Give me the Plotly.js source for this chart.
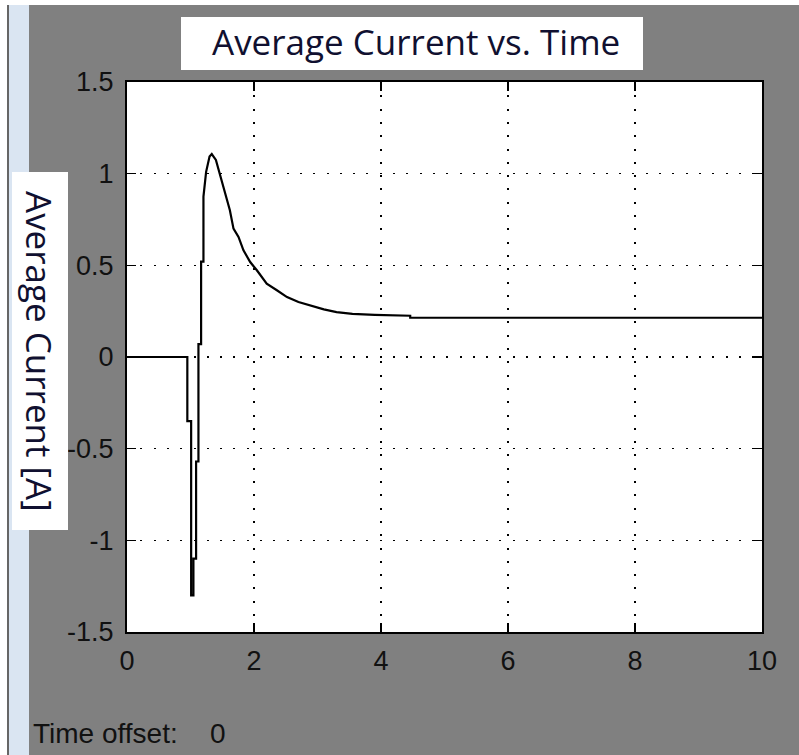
<!DOCTYPE html>
<html>
<head>
<meta charset="utf-8">
<script src="https://cdn.plot.ly/plotly-3.0.1.min.js"></script>
<style>
html,body{margin:0;padding:0;background:#808080;}
#chart{width:799px;height:755px;}
</style>
</head>
<body>
<div id="chart"></div>
<script>
// Data
var timeSec = [0, 0.95, 0.95, 1.01, 1.01, 1.046, 1.046, 1.088, 1.088, 1.125, 1.125, 1.167, 1.167, 1.204, 1.204, 1.246, 1.30, 1.335, 1.40, 1.456, 1.49, 1.546, 1.62, 1.677, 1.756, 1.834, 1.94, 2.045, 2.20, 2.36, 2.52, 2.70, 2.90, 3.10, 3.30, 3.55, 3.90, 4.46, 4.46, 10];
var avgCurrent = [0, 0, -0.35, -0.35, -1.30, -1.30, -1.10, -1.10, -0.57, -0.57, 0.07, 0.07, 0.52, 0.52, 0.875, 1.01, 1.093, 1.107, 1.075, 1.003, 0.966, 0.902, 0.80, 0.70, 0.655, 0.582, 0.518, 0.473, 0.40, 0.364, 0.327, 0.30, 0.28, 0.26, 0.245, 0.235, 0.23, 0.225, 0.214, 0.214];
var xTicks = [0, 2, 4, 6, 8, 10];
var yTicks = [-1.5, -1, -0.5, 0, 0.5, 1, 1.5];
var yTickText = ['-1.5', '-1', '-0.5', '0', '0.5', '1', '1.5'];
var chartTitle = 'Average Current vs. Time';
var yTitle = 'Average Current [A]';
var footLabel = 'Time offset:';
var footValue = '0';

// pixel -> paper helpers (plot area: x 127..762, y 82..632)
var L = 127, R = 762, T = 82, B = 632;
function px(x){ return (x - L) / (R - L); }
function py(y){ return (B - y) / (B - T); }

var trace = {
  x: timeSec, y: avgCurrent, type: 'scatter', mode: 'lines',
  line: {color: '#000000', width: 2.2}, hoverinfo: 'skip'
};

var tickFont = {family: 'Liberation Sans, Arial, sans-serif', size: 27, color: '#111111'};
var axisCommon = {
  showline: true, linecolor: '#000000', linewidth: 2, mirror: 'ticks',
  ticks: 'inside', ticklen: 9, tickwidth: 1.5, tickcolor: '#000000',
  showgrid: true, gridcolor: '#000000', gridwidth: 1.5, griddash: '2px,11.3px',
  zeroline: false, tickfont: tickFont, fixedrange: true
};

var titleFont = {family: 'Open Sans, Noto Sans, sans-serif', size: 35, color: '#101030'};
var footFont = {family: 'Liberation Sans, Arial, sans-serif', size: 28, color: '#111111'};

var layout = {
  width: 799, height: 755,
  margin: {l: L, r: 799 - R, t: T, b: 755 - B, pad: 0},
  paper_bgcolor: '#808080', plot_bgcolor: '#ffffff',
  showlegend: false,
  xaxis: Object.assign({}, axisCommon, {range: [0, 10], tickvals: xTicks, ticktext: xTicks.map(String), ticklabelstandoff: 4}),
  yaxis: Object.assign({}, axisCommon, {range: [-1.5, 1.5], tickvals: yTicks, ticktext: yTickText, ticklabelstandoff: 6}),
  shapes: [
    {type: 'rect', xref: 'paper', yref: 'paper', x0: px(0), x1: px(7), y0: py(755), y1: py(0), fillcolor: '#ffffff', line: {width: 0}},
    {type: 'rect', xref: 'paper', yref: 'paper', x0: px(7), x1: px(9), y0: py(755), y1: py(0), fillcolor: '#666666', line: {width: 0}},
    {type: 'rect', xref: 'paper', yref: 'paper', x0: px(9), x1: px(29), y0: py(755), y1: py(0), fillcolor: '#dae5f2', line: {width: 0}},
    {type: 'rect', xref: 'paper', yref: 'paper', x0: px(0), x1: px(799), y0: py(5), y1: py(0), fillcolor: '#ffffff', line: {width: 0}},
    {type: 'rect', xref: 'paper', yref: 'paper', x0: px(181), x1: px(643), y0: py(70), y1: py(17), fillcolor: '#ffffff', line: {width: 0}},
    {type: 'rect', xref: 'paper', yref: 'paper', x0: px(12), x1: px(68), y0: py(530), y1: py(172), fillcolor: '#ffffff', line: {width: 0}}
  ],
  annotations: [
    {xref: 'paper', yref: 'paper', x: px(416), y: py(41), xanchor: 'center', yanchor: 'middle', showarrow: false,
     text: chartTitle, font: titleFont},
    {xref: 'paper', yref: 'paper', x: px(40), y: py(352), xanchor: 'center', yanchor: 'middle', showarrow: false,
     text: yTitle, textangle: 90, font: titleFont},
    {xref: 'paper', yref: 'paper', x: px(31), y: py(733), xanchor: 'left', yanchor: 'middle', showarrow: false,
     text: footLabel, font: footFont},
    {xref: 'paper', yref: 'paper', x: px(208), y: py(733), xanchor: 'left', yanchor: 'middle', showarrow: false,
     text: footValue, font: footFont}
  ]
};

Plotly.newPlot('chart', [trace], layout, {displayModeBar: false, staticPlot: true});
</script>
</body>
</html>
